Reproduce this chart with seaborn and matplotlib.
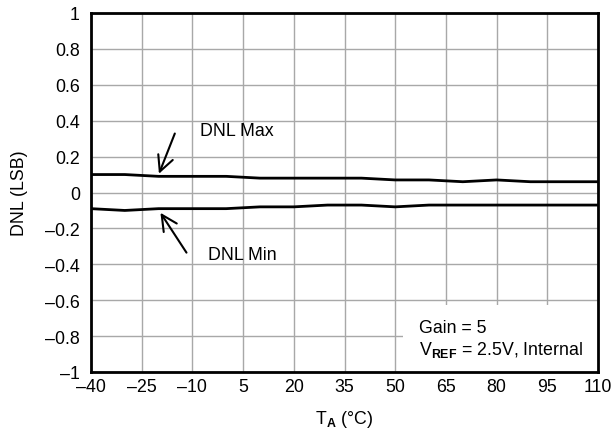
import matplotlib
matplotlib.use("Agg")
import matplotlib.pyplot as plt
import seaborn as sns
import pandas as pd
from matplotlib.patches import Rectangle

temps = [-40, -30, -20, -10, 0, 10, 20, 30, 40, 50, 60, 70, 80, 90, 100, 110]
dnl_max = [0.10, 0.10, 0.09, 0.09, 0.09, 0.08, 0.08, 0.08, 0.08, 0.07, 0.07, 0.06, 0.07, 0.06, 0.06, 0.06]
dnl_min = [-0.09, -0.10, -0.09, -0.09, -0.09, -0.08, -0.08, -0.07, -0.07, -0.08, -0.07, -0.07, -0.07, -0.07, -0.07, -0.07]
x_ticks = [-40, -25, -10, 5, 20, 35, 50, 65, 80, 95, 110]
y_ticks = [-1, -0.8, -0.6, -0.4, -0.2, 0, 0.2, 0.4, 0.6, 0.8, 1]

sns.set_theme(style="whitegrid")
plt.rcParams['font.family'] = ['Liberation Sans', 'DejaVu Sans']
plt.rcParams['axes.unicode_minus'] = True
plt.rcParams['text.color'] = 'black'
plt.rcParams['axes.labelcolor'] = 'black'
plt.rcParams['mathtext.fontset'] = 'custom'
plt.rcParams['mathtext.rm'] = 'Liberation Sans'
plt.rcParams['mathtext.bf'] = 'Liberation Sans:bold'
plt.rcParams['mathtext.it'] = 'Liberation Sans:italic'

FS = 12.8

df = pd.DataFrame({"T": temps * 2,
                   "DNL": dnl_max + dnl_min,
                   "series": ["Max"] * len(temps) + ["Min"] * len(temps)})

fig = plt.figure(figsize=(6.13, 4.31), dpi=100)
ax = fig.add_axes([91/613, 1 - 373/431, (598-91)/613, (373-14)/431])
sns.lineplot(data=df, x="T", y="DNL", units="series", estimator=None,
             color="black", linewidth=2.0, ax=ax, legend=False)

ax.set_xlim(-40, 110)
ax.set_ylim(-1, 1)
ax.set_xticks(x_ticks)
ax.set_yticks(y_ticks)
ax.set_xticklabels([str(t).replace('-', '\u2013') for t in x_ticks])
ax.set_yticklabels([('%g' % v).replace('-', '\u2013') for v in y_ticks])
ax.tick_params(axis='x', length=0, pad=4, labelsize=FS, colors='black')
ax.tick_params(axis='y', length=0, pad=8, labelsize=FS, colors='black')
ax.grid(True, color='#a8a8a8', linewidth=1.0)
ax.set_facecolor('white')
for s in ax.spines.values():
    s.set_color('black')
    s.set_linewidth(2.0)
    s.set_visible(True)

ax.set_xlabel(r'T$_\mathbf{A}$ (°C)', fontsize=FS, color='black', labelpad=10)
ax.set_ylabel('DNL (LSB)', fontsize=FS, color='black', labelpad=12)

ax.annotate('', xy=(-20.2, 0.09), xytext=(-14.9, 0.343),
            arrowprops=dict(arrowstyle='->', color='black', lw=1.5, mutation_scale=28))
ax.text(-7.8, 0.348, 'DNL Max', fontsize=FS, va='center', ha='left', color='black')
ax.annotate('', xy=(-19.9, -0.10), xytext=(-11.3, -0.348),
            arrowprops=dict(arrowstyle='->', color='black', lw=1.5, mutation_scale=28))
ax.text(-5.4, -0.345, 'DNL Min', fontsize=FS, va='center', ha='left', color='black')

ax.add_patch(Rectangle((52.3, -1), 60, 0.373, facecolor='white', edgecolor='none', zorder=2.5))
ax.text(57.0, -0.75, 'Gain = 5', fontsize=FS, va='center', ha='left', zorder=3, color='black')
ax.text(57.0, -0.87, r'V$_\mathbf{REF}$ = 2.5V, Internal', fontsize=FS, va='center', ha='left', zorder=3, color='black')

fig.savefig('out.png', dpi=100)
